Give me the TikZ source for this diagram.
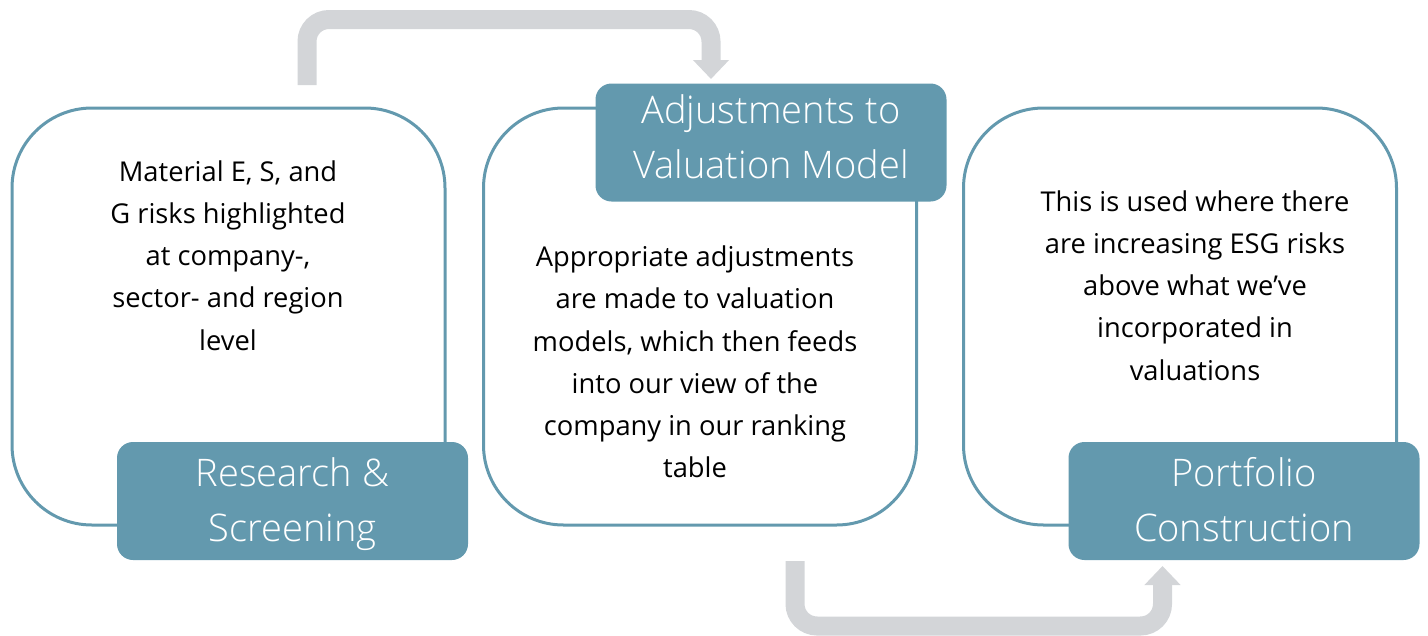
\documentclass[tikz,border=0pt]{standalone}
\usepackage{fontspec}
\setmainfont{Open Sans}
\newfontfamily\lightfont{Open Sans Light}
\usetikzlibrary{arrows.meta}
\definecolor{teal}{HTML}{6399AE}
\definecolor{flowgrey}{HTML}{D3D5D8}
\tikzset{
  outline/.style={draw=teal, line width=3pt, rounded corners=80pt, inner sep=0pt,
    minimum width=433pt, minimum height=417pt},
  label/.style={fill=teal, rounded corners=16pt, inner sep=0pt,
    minimum width=351pt, minimum height=118pt},
  heading/.style={align=center, text=white, inner sep=0pt,
    font=\lightfont\fontsize{38}{55}\selectfont},
  body/.style={align=center, text=black, inner sep=0pt,
    font=\fontsize{27.3}{42.2}\selectfont},
  flow/.style={draw=flowgrey, line width=19pt, rounded corners=22pt,
    -{Triangle[length=19pt,width=35pt]}}
}
\begin{document}
\begin{tikzpicture}[x=1pt,y=-1pt]
\useasboundingbox (0,0) rectangle (1428,635);

% outline panels
\node[outline] (p1) at (228.5,316.5) {};
\node[outline] (p2) at (700,316.5) {};
\node[outline] (p3) at (1180,316.5) {};

% panel texts
\node[body] (t1) at (228,255.5) {Material E, S, and\\G risks highlighted\\at company-,\\sector- and region\\level};
\node[body] (t2) at (695,362) {Appropriate adjustments\\are made to valuation\\models, which then feeds\\into our view of the\\company in our ranking\\table};
\node[body] (t3) at (1195,285.5) {This is used where there\\are increasing ESG risks\\above what we’ve\\incorporated in\\valuations};

% step labels
\node[label] (l1) at (292.5,501) {};
\node[label] (l2) at (771,142.5) {};
\node[label] (l3) at (1244,501) {};
\node[heading] (h1) at (292.5,504) {Research \&\\Screening};
\node[heading] (h2) at (771,136.5) {Adjustments to\\Valuation Model};
\node[heading] (h3) at (1244,500) {Portfolio\\Construction};

% flow arrows
\coordinate (s1) at (307,85);
\coordinate (e1) at (711,79);
\coordinate (s2) at (795,561);
\coordinate (e2) at (1162.5,566);
\draw[flow] (s1) -- (s1 |- 0,19.5) -- (e1 |- 0,19.5) -- (e1);
\draw[flow] (s2) -- (s2 |- 0,626) -- (e2 |- 0,626) -- (e2);
\end{tikzpicture}
\end{document}
